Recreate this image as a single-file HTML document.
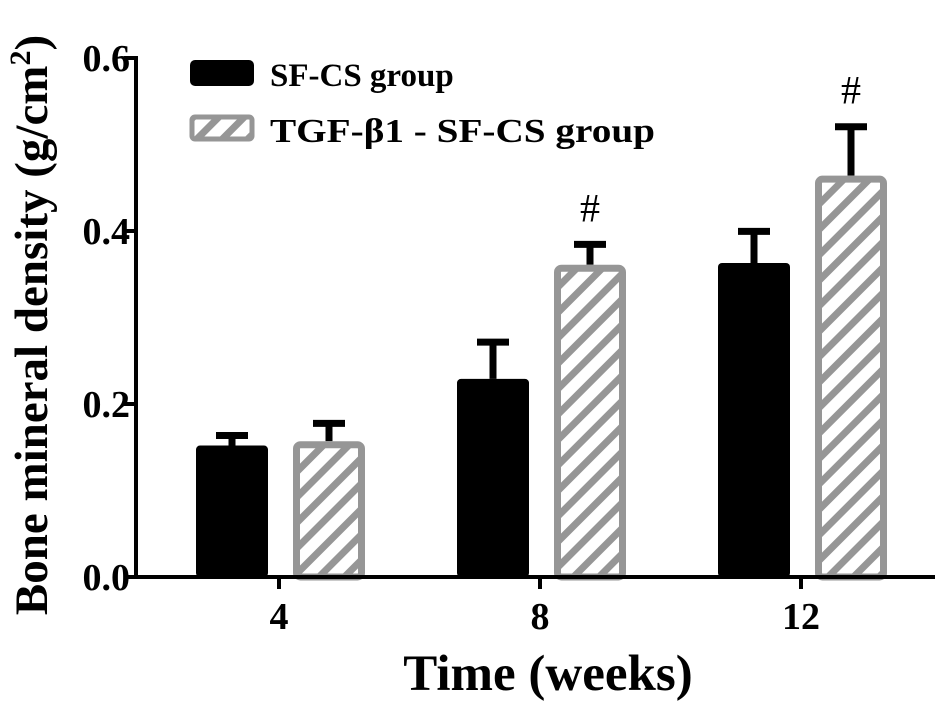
<!DOCTYPE html>
<html><head><meta charset="utf-8"><style>
html,body{margin:0;padding:0;background:#fff;}
svg{display:block;font-family:"Liberation Serif",serif;font-weight:bold;}
</style></head><body>
<svg id="chart" width="945" height="709" viewBox="0 0 945 709">
<defs>
<pattern id="hatch" patternUnits="userSpaceOnUse" width="18" height="18" patternTransform="rotate(45)">
<rect width="18" height="18" fill="#fff"/>
<rect x="0" y="0" width="7" height="18" fill="#969696"/>
</pattern>
</defs>
<g id="marks"></g>
<g id="axes"></g>
<text x="0" y="0" transform="translate(47,325) rotate(-90)" text-anchor="middle" font-size="47">Bone mineral density (g/cm<tspan font-size="30" dy="-17">2</tspan><tspan dy="17">)</tspan></text>
<text x="548" y="690" text-anchor="middle" font-size="51">Time (weeks)</text>
<g>
<rect x="190" y="60" width="64" height="26" rx="5" fill="#000"/>
<text x="270" y="86" font-size="33">SF-CS group</text>
<rect x="192" y="117" width="60" height="22" rx="3" fill="url(#hatch)" stroke="#969696" stroke-width="5"/>
<text x="270" y="142" font-size="34" textLength="385" lengthAdjust="spacingAndGlyphs">TGF-β1 - SF-CS group</text>
</g>
</svg>
<script>
const categories = ["4","8","12"];
const sfcsValues = [0.152, 0.229, 0.363];
const sfcsErrors = [0.015, 0.046, 0.040];
const tgfValues = [0.157, 0.361, 0.464];
const tgfErrors = [0.024, 0.027, 0.060];
const significant = [false, true, true];
const yTicks = [0.0, 0.2, 0.4, 0.6];
const yTickLabels = ["0.0","0.2","0.4","0.6"];

const NS="http://www.w3.org/2000/svg";
const y0=577, yTop=58, yMax=0.6;
const yScale=v=>y0-(v/yMax)*(y0-yTop);
const axisLeft=136, axisRight=935;
const groupCenters=[279,540,800];
const xScale=i=>groupCenters[0]+i*(groupCenters[1]-groupCenters[0]);
const marks=document.getElementById('marks');
const axes=document.getElementById('axes');
function mk(tag,attrs,parent){const e=document.createElementNS(NS,tag);for(const k in attrs)e.setAttribute(k,attrs[k]);parent.appendChild(e);return e;}
const bw=72;
function errBar(cx,v,err,parent){
  const l=mk('line',{x1:cx,x2:cx,y1:yScale(v),y2:yScale(v+err),stroke:'#000','stroke-width':7},parent);
  
  
  const c=mk('line',{x1:cx-16,x2:cx+16,y1:yScale(v+err)+3,y2:yScale(v+err)+3,stroke:'#000','stroke-width':7},parent);
  
  
}
categories.forEach((c,i)=>{
  const cx=xScale(i);
  const bx=cx-83, hx=cx+14;
  errBar(bx+bw/2,sfcsValues[i],sfcsErrors[i],marks);
  const b=mk('rect',{x:bx,y:yScale(sfcsValues[i]),width:bw,height:y0-yScale(sfcsValues[i]),rx:4,fill:'#000'},marks);
  
  
  errBar(hx+bw/2,tgfValues[i],tgfErrors[i],marks);
  const h=mk('rect',{x:hx+3.5,y:yScale(tgfValues[i])+3.5,width:bw-7,height:y0-yScale(tgfValues[i])-3.5,rx:4,fill:'url(#hatch)',stroke:'#969696','stroke-width':7},marks);
  
  
  if(significant[i]){
    const t=mk('text',{x:hx+bw/2,y:yScale(tgfValues[i]+tgfErrors[i])-20,'text-anchor':'middle','font-size':40,'font-weight':'normal'},marks);
    t.textContent='#';
    
    
  }
  const tk=mk('line',{x1:cx,x2:cx,y1:y0,y2:y0+12,stroke:'#000','stroke-width':4},axes);
  
  
  const tl=mk('text',{x:cx,y:y0+52,'text-anchor':'middle','font-size':38},axes);
  tl.textContent=c;
  
  
});
const ya=mk('line',{x1:axisLeft,x2:axisLeft,y1:yTop-2,y2:y0+2,stroke:'#000','stroke-width':4},axes);


const xa=mk('line',{x1:axisLeft-2,x2:axisRight,y1:y0,y2:y0,stroke:'#000','stroke-width':4},axes);


yTicks.forEach((v,i)=>{
  const t=mk('line',{x1:axisLeft-12,x2:axisLeft,y1:yScale(v),y2:yScale(v),stroke:'#000','stroke-width':4},axes);
  
  
  const l=mk('text',{x:axisLeft-6,y:yScale(v)+13,'text-anchor':'end','font-size':38},axes);
  l.textContent=yTickLabels[i];
  
  
});
</script>
</body></html>
